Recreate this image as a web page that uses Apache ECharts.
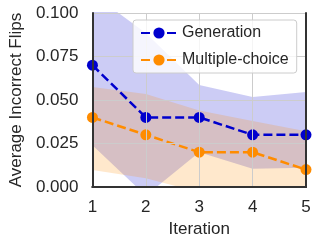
<!DOCTYPE html>
<html><head><meta charset="utf-8">
<script src="https://cdn.jsdelivr.net/npm/echarts@6/dist/echarts.min.js"></script>
<style>html,body{margin:0;padding:0;background:#fff}#c{width:319px;height:244px}</style>
</head><body><div id="c"></div>
<script>
const iterations = ['1', '2', '3', '4', '5'];
const genMean  = [0.07, 0.04, 0.04, 0.03, 0.03];
const genLower = [0.024, -0.005, 0.020, 0.0105, 0.011];
const genUpper = [0.111, 0.0885, 0.0586, 0.0517, 0.0546];
const mcMean   = [0.04, 0.03, 0.02, 0.02, 0.01];
const mcLower  = [0.0098, 0.005, -0.003, -0.006, -0.008];
const mcUpper  = [0.0575, 0.0535, 0.044, 0.038, 0.032];

const FONT = "'Liberation Sans', Arial, sans-serif";
const TXT = '#262626';
const BLUE = '#0000CD';
const ORANGE = '#FF8C00';

function band(name, lower, upper, color) {
  return [
    { name: name + '_lo', type: 'line', data: lower, stack: name, stackStrategy: 'all',
      symbol: 'none', lineStyle: { opacity: 0 }, silent: true, z: 1 },
    { name: name + '_hi', type: 'line', data: upper.map((u, i) => u - lower[i]), stack: name, stackStrategy: 'all',
      symbol: 'none', lineStyle: { opacity: 0 }, silent: true, z: 1,
      areaStyle: { color: color, opacity: 0.2 } }
  ];
}

const chart = echarts.init(document.getElementById('c'), null, { renderer: 'canvas' });
chart.setOption({
  animation: false,
  backgroundColor: '#fff',
  textStyle: { fontFamily: FONT },
  grid: { left: 86, right: 13, top: 13, bottom: 57, show: false },
  legend: {
    data: ['Generation', 'Multiple-choice'], z: 10,
    orient: 'vertical', left: 133, top: 20,
    padding: [5, 8, 5, 7], itemWidth: 36, itemHeight: 14, itemGap: 11,
    backgroundColor: 'rgba(255,255,255,0.8)', borderColor: '#cccccc', borderWidth: 1, borderRadius: 3,
    textStyle: { fontSize: 16, color: TXT, fontFamily: FONT }
  },
  xAxis: [{
    type: 'category', data: iterations, boundaryGap: false, z: 5,
    name: 'Iteration', nameLocation: 'middle', nameGap: 33,
    nameTextStyle: { fontSize: 17, color: TXT, fontFamily: FONT },
    axisLine: { show: true, lineStyle: { color: '#333', width: 2 } },
    axisTick: { show: false },
    axisLabel: { fontSize: 17, color: TXT, margin: 12, fontFamily: FONT },
    splitLine: { show: true, interval: 0, lineStyle: { color: '#cccccc', width: 1 } }
  }, {
    type: 'category', data: iterations, boundaryGap: false, position: 'top', z: 5,
    axisLine: { show: true, lineStyle: { color: '#333', width: 2 } },
    axisTick: { show: false }, axisLabel: { show: false }, splitLine: { show: false }
  }],
  yAxis: [{
    type: 'value', min: 0, max: 0.1, interval: 0.025, z: 5,
    name: 'Average Incorrect Flips', nameLocation: 'middle', nameGap: 65,
    nameTextStyle: { fontSize: 17, color: TXT, fontFamily: FONT },
    axisLine: { show: true, lineStyle: { color: '#333', width: 2 } },
    axisTick: { show: false },
    axisLabel: { fontSize: 17, color: TXT, margin: 14, fontFamily: FONT, formatter: v => v.toFixed(3) },
    splitLine: { show: true, lineStyle: { color: '#cccccc', width: 1 } }
  }, {
    type: 'value', min: 0, max: 0.1, interval: 0.025, position: 'right', z: 5,
    axisLine: { show: true, lineStyle: { color: '#333', width: 2 } },
    axisTick: { show: false }, axisLabel: { show: false }, splitLine: { show: false }
  }],
  series: [
    ...band('gen', genLower, genUpper, BLUE),
    ...band('mc', mcLower, mcUpper, ORANGE),
    { name: 'Generation', type: 'line', data: genMean, z: 4,
      symbol: 'circle', symbolSize: 11, itemStyle: { color: BLUE },
      lineStyle: { color: BLUE, width: 2.5, type: [9, 4] } },
    { name: 'Multiple-choice', type: 'line', data: mcMean, z: 4,
      symbol: 'circle', symbolSize: 11, itemStyle: { color: ORANGE },
      lineStyle: { color: ORANGE, width: 2.5, type: [9, 4] } }
  ]
});
</script></body></html>
